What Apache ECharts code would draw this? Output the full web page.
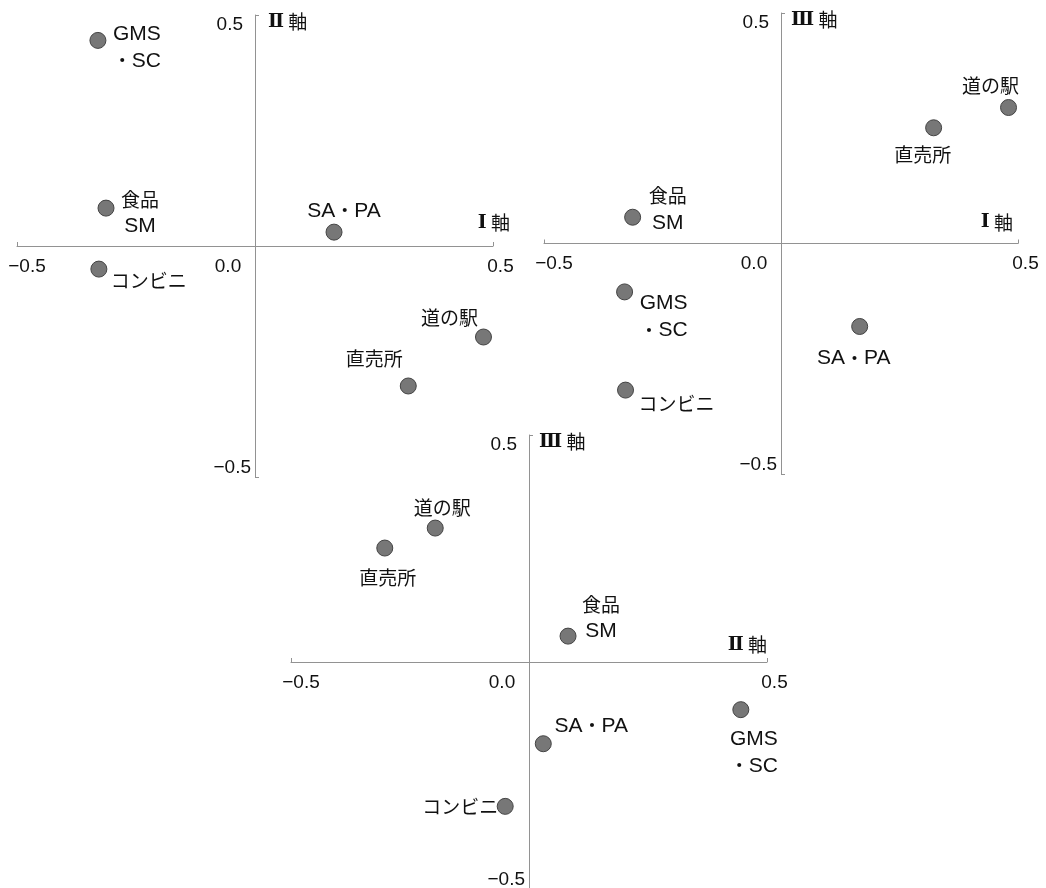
<!DOCTYPE html>
<html><head><meta charset="utf-8">
<script src="https://cdn.jsdelivr.net/npm/echarts@6/dist/echarts.min.js"></script>
<style>html,body{margin:0;padding:0;background:#fff}#c{width:1046px;height:888px}</style>
</head><body><div id="c"></div>
<script>
// ---- data ----
const categories = ['GMS\n・SC', '食品\nSM', 'コンビニ', 'SA・PA', '道の駅', '直売所'];
const axisI   = [-0.330, -0.313, -0.328, 0.166, 0.480, 0.322];
const axisII  = [0.445, 0.082, -0.050, 0.030, -0.197, -0.303];
const axisIII = [-0.105, 0.057, -0.318, -0.180, 0.295, 0.251];
const tickValues = [-0.5, 0, 0.5];
const tickLabels = ['−0.5', '0.0', '0.5'];
const axisNums = ['Ⅰ', 'Ⅱ', 'Ⅲ'];
const axisWord = '軸';

// ---- style / layout ----
const LATIN = "'Liberation Sans', Arial, sans-serif";
const CJK = "'Noto Sans CJK JP', sans-serif";
const SERIF = "'DejaVu Serif', 'Liberation Serif', serif";
const FS = 19;
const AX = '#929292';

const panels = [
  { grid: {left: 17, top: 15, width: 476, height: 462}, xs: axisI, ys: axisII, xn: 0, yn: 1,
    xNameGap: 17, xNameUp: 23, yNameLeft: 13,
    offsets: [[39, 7], [34, 5], [50, 12], [10, -21], [-34, -19], [-34, -27]] },
  { grid: {left: 544, top: 13, width: 474, height: 461}, xs: axisI, ys: axisIII, xn: 0, yn: 2,
    xNameGap: -5, xNameUp: 21, yNameLeft: 10,
    offsets: [[39, 25], [35, -8], [51, 14], [-6, 32], [-18, -22], [-11, 27]] },
  { grid: {left: 291, top: 435, width: 476, height: 454}, xs: axisII, ys: axisIII, xn: 1, yn: 2,
    xNameGap: 0, xNameUp: 17, yNameLeft: 10,
    offsets: [[13, 43], [33, -18], [-45, 0], [48, -18], [7, -20], [3, 30]] }
];

const tok = (extra) => Object.assign({fontSize: FS, fontFamily: LATIN, color: '#111'}, extra);

function richName(s) {
  return s.split('\n').map(line =>
    line.replace(/[A-Za-z]+|[^A-Za-z]+/g, m => (/[A-Za-z]/.test(m) ? '{l|' : '{j|') + m + '}')
  ).join('\n');
}
function tickIndex(v) { return tickValues.indexOf(Math.round(v * 10) / 10); }

const option = {
  animation: false,
  backgroundColor: '#fff',
  grid: panels.map(p => Object.assign({outerBoundsMode: 'none', containLabel: false}, p.grid)),
  xAxis: panels.map((p, i) => ({
    type: 'value', gridIndex: i, min: -0.5, max: 0.5, interval: 0.5,
    position: 'bottom', offset: -p.grid.height / 2,
    axisLine: {onZero: false, lineStyle: {color: AX, width: 1}},
    axisTick: {show: true, inside: true, length: 4, lineStyle: {color: AX}},
    splitLine: {show: false},
    axisLabel: {
      margin: 11, interval: 0,
      formatter: v => {
        const k = tickIndex(v);
        return ['{a|', '{z|', '{b|'][k] + tickLabels[k] + '}';
      },
      rich: {a: tok({padding: [0, 0, 0, 20]}), z: tok({padding: [0, 54, 0, 0]}), b: tok({padding: [0, 0, 0, 15]})}
    },
    name: '{r|' + axisNums[p.xn] + '}{k| ' + axisWord + '}\n{k| }',
    nameLocation: 'end', nameGap: p.xNameGap, nameMoveOverlap: false,
    nameTextStyle: {
      align: 'right', verticalAlign: 'middle',
      rich: {
        r: {fontSize: 19, fontFamily: SERIF, fontWeight: 'bold', color: '#111', lineHeight: p.xNameUp * 2},
        k: {fontSize: FS, fontFamily: CJK, color: '#111', lineHeight: p.xNameUp * 2}
      }
    }
  })),
  yAxis: panels.map((p, i) => ({
    type: 'value', gridIndex: i, min: -0.5, max: 0.5, interval: 0.5,
    position: 'left', offset: -p.grid.width / 2,
    axisLine: {onZero: false, lineStyle: {color: AX, width: 1}},
    axisTick: {show: true, inside: true, length: 4, lineStyle: {color: AX}},
    splitLine: {show: false},
    axisLabel: {
      margin: 4, interval: 0,
      verticalAlignMinLabel: 'bottom', verticalAlignMaxLabel: 'top',
      formatter: v => {
        const k = tickIndex(v);
        return k === 1 ? '' : k === 0 ? '{a|' + tickLabels[k] + '}' : '{b|' + tickLabels[k] + '}';
      },
      rich: {a: tok({padding: [0, 0, 0, 0]}), b: tok({padding: [0, 8, 0, 0]})}
    },
    name: '{r|' + axisNums[p.yn] + '}{k| ' + axisWord + '}',
    nameLocation: 'end', nameGap: -7, nameMoveOverlap: false,
    nameTextStyle: {
      align: 'left', verticalAlign: 'middle', padding: [0, 0, 0, p.yNameLeft],
      rich: {
        r: {fontSize: 19, fontFamily: SERIF, fontWeight: 'bold', color: '#111'},
        k: {fontSize: FS, fontFamily: CJK, color: '#111'}
      }
    }
  })),
  series: panels.map((p, i) => ({
    type: 'scatter', xAxisIndex: i, yAxisIndex: i,
    symbol: 'circle', symbolSize: 16,
    itemStyle: {color: '#777777', borderColor: '#444444', borderWidth: 1, opacity: 1},
    label: {
      show: true, position: 'inside', align: 'center', verticalAlign: 'middle',
      formatter: prm => richName(prm.name),
      color: '#111', textBorderWidth: 0,
      rich: {
        l: {fontSize: 21, fontFamily: LATIN, color: '#111', lineHeight: 27},
        j: {fontSize: FS, fontFamily: CJK, color: '#111', lineHeight: 27}
      }
    },
    emphasis: {disabled: true},
    data: categories.map((c, j) => ({
      name: c, value: [p.xs[j], p.ys[j]],
      label: {offset: p.offsets[j]}
    }))
  }))
};

const chart = echarts.init(document.getElementById('c'), null, {renderer: 'canvas'});
chart.setOption(option);
</script>
</body></html>
